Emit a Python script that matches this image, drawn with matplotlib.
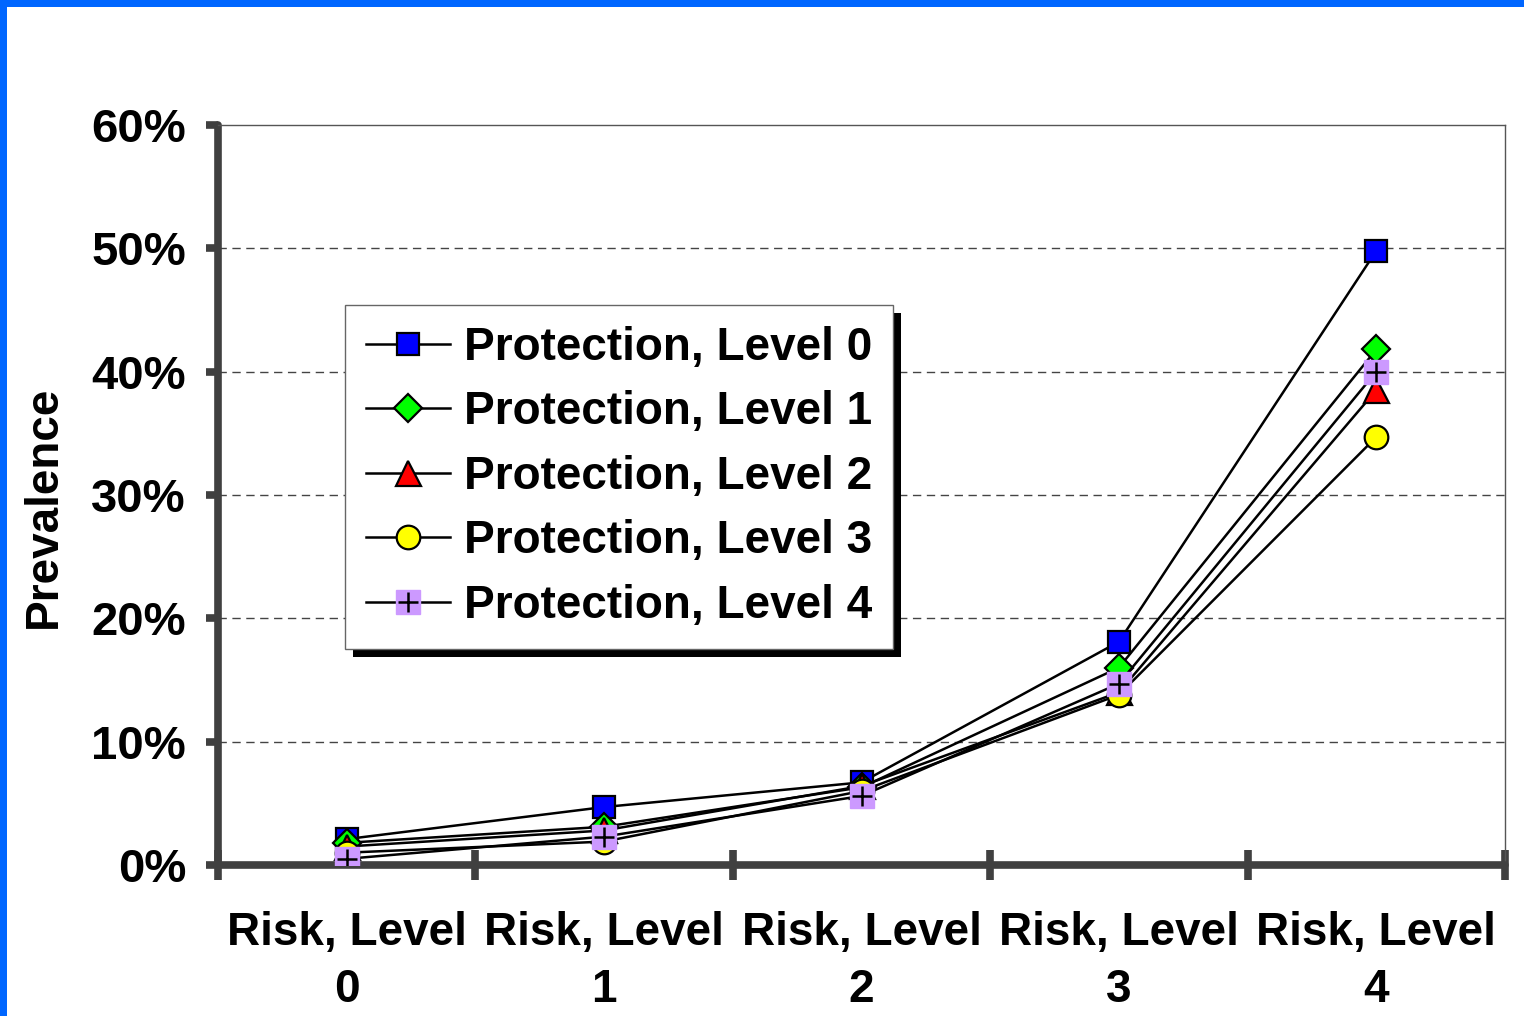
import numpy as np
import matplotlib.pyplot as plt
from matplotlib.patches import Rectangle
from matplotlib.ticker import FixedLocator, PercentFormatter

# Data (prevalence in %)
categories = ["Risk, Level\n0", "Risk, Level\n1", "Risk, Level\n2", "Risk, Level\n3", "Risk, Level\n4"]
series_names = ["Protection, Level 0", "Protection, Level 1", "Protection, Level 2",
                "Protection, Level 3", "Protection, Level 4"]
prot0 = [2.1, 4.7, 6.7, 18.1, 49.8]
prot1 = [1.8, 3.1, 6.3, 16.0, 41.8]
prot2 = [1.5, 2.8, 6.4, 14.0, 38.5]
prot3 = [1.0, 1.9, 6.0, 13.8, 34.7]
prot4 = [0.5, 2.3, 5.6, 14.7, 40.0]

plt.rcParams['font.family'] = ['Liberation Sans', 'DejaVu Sans']
plt.rcParams['font.weight'] = 'bold'

fig = plt.figure(figsize=(15.24, 10.16), dpi=100)
fig.patch.set_facecolor('white')

# blue slide border (top and left)
fig.add_artist(Rectangle((0, 1 - 7 / 1016), 1, 7 / 1016, transform=fig.transFigure,
                         facecolor='#0066FF', edgecolor='none'))
fig.add_artist(Rectangle((0, 0), 7 / 1524, 1, transform=fig.transFigure,
                         facecolor='#0066FF', edgecolor='none'))

ax = fig.add_axes([218 / 1524, 151 / 1016, 1287 / 1524, 740 / 1016])
x = np.arange(len(categories))

line_kw = dict(color='black', lw=1.8, markeredgecolor='black', markeredgewidth=1.6, zorder=3)
h0, = ax.plot(x, prot0, marker='s', markersize=16, markerfacecolor='#0000FF', **line_kw)
h1, = ax.plot(x, prot1, marker='D', markersize=14, markerfacecolor='#00FF00', **line_kw)
h2, = ax.plot(x, prot2, marker='^', markersize=18, markerfacecolor='#FF0000', **line_kw)
h3, = ax.plot(x, prot3, marker='o', markersize=17, markerfacecolor='#FFFF00', **line_kw)
h4, = ax.plot(x, prot4, color='black', lw=1.8, marker='s', markersize=17,
              markerfacecolor='#CC99FF', markeredgecolor='#CC99FF', zorder=3)
h4b, = ax.plot(x, prot4, ls='none', marker='+', markersize=15, markeredgewidth=1.8,
               color='black', zorder=4)

ax.set_xlim(-0.5, 4.5)
ax.set_ylim(0, 60)

# gridlines
for yv in [10, 20, 30, 40, 50]:
    ax.axhline(yv, color='#444444', lw=1.0, ls=(0, (6, 4)), zorder=1)

# spines
for side in ['left', 'bottom']:
    ax.spines[side].set_color('#404040')
    ax.spines[side].set_linewidth(5.5)
    ax.spines[side].set_capstyle('round')
for side in ['top', 'right']:
    ax.spines[side].set_color('#555555')
    ax.spines[side].set_linewidth(1.0)

ax.yaxis.set_major_locator(FixedLocator([0, 10, 20, 30, 40, 50, 60]))
ax.yaxis.set_major_formatter(PercentFormatter(decimals=0))
ax.tick_params(axis='y', direction='out', length=9, width=5.5, color='#404040',
               labelsize=34, pad=14)

ax.xaxis.set_major_locator(FixedLocator(np.arange(-0.5, 5, 1)))
ax.xaxis.set_minor_locator(FixedLocator(x))
ax.set_xticklabels([], minor=False)
ax.set_xticklabels(categories, minor=True)
ax.tick_params(axis='x', which='major', direction='inout', length=22, width=5.5, color='#404040')
ax.tick_params(axis='x', which='minor', length=0, labelsize=33, pad=33)
for t in ax.get_yticklabels() + ax.get_xticklabels(minor=True):
    t.set_fontweight('bold')
for t in ax.get_xticklabels(minor=True):
    t.set_linespacing(1.4)

ax.set_ylabel("Prevalence", fontsize=33, fontweight='bold')
ax.yaxis.set_label_coords(-0.118, 0.484)

leg = ax.legend([h0, h1, h2, h3, (h4, h4b)], series_names, loc='upper left',
                bbox_to_anchor=(127 / 1287, 1 - 180 / 740), fontsize=33, frameon=True,
                fancybox=False, edgecolor='#666666', framealpha=1, borderpad=0.45,
                labelspacing=0.45, handlelength=1.85, handletextpad=0.3, borderaxespad=0)
leg.get_frame().set_linewidth(1.0)
for t in leg.get_texts():
    t.set_fontweight('bold')
leg.set_zorder(6)

# black drop shadow behind the legend
fig.canvas.draw()
bb = leg.get_window_extent().transformed(fig.transFigure.inverted())
ax.add_patch(Rectangle((bb.x0 + 8 / 1524, bb.y0 - 8 / 1016), bb.width, bb.height,
                       transform=fig.transFigure, facecolor='black', edgecolor='none',
                       clip_on=False, zorder=5))

fig.savefig("out.png", dpi=100)
